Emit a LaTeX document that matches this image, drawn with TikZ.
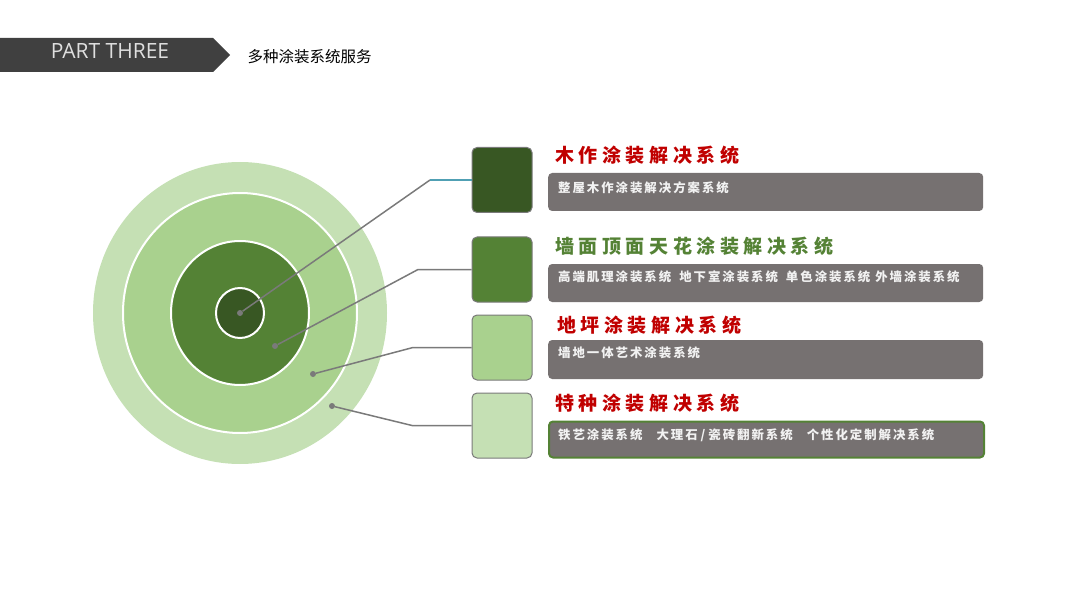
\documentclass[tikz,border=0pt]{standalone}
\usepackage{fontspec}
\usepackage{tikz}
\usetikzlibrary{calc,positioning}
\setmainfont{Open Sans}
\newfontfamily\cjk{Noto Sans CJK SC}
\newfontfamily\cjktitle[LetterSpace=24]{Noto Sans CJK SC}
\newfontfamily\cjkbar[LetterSpace=16]{Noto Sans CJK SC}
\definecolor{hdrgray}{RGB}{64,64,64}
\definecolor{ringA}{RGB}{197,224,180}
\definecolor{ringB}{RGB}{169,209,142}
\definecolor{ringC}{RGB}{84,130,53}
\definecolor{ringD}{RGB}{56,87,35}
\definecolor{barGray}{RGB}{118,113,113}
\definecolor{titleRed}{RGB}{192,0,0}
\definecolor{lineGray}{RGB}{122,122,122}
\definecolor{lineTeal}{RGB}{80,160,180}

\tikzset{
  sqbox/.style={draw=lineGray, line width=1pt, rounded corners=5pt, minimum width=60pt, minimum height=65pt, inner sep=0pt},
  barbox/.style={fill=barGray, rounded corners=4pt, minimum width=435pt, inner sep=0pt, anchor=west},
  bartext/.style={anchor=west, text=white!95!black, font=\cjkbar\bfseries\fontsize{12.4}{12.4}\selectfont, inner sep=0pt},
  titletext/.style={anchor=west, font=\cjktitle\bfseries\fontsize{19}{19}\selectfont, inner sep=0pt},
  dotnode/.style={circle, fill=lineGray, inner sep=0pt, minimum size=6pt},
  leader/.style={draw=lineGray, line width=1.5pt},
  ringline/.style={draw=white, line width=2pt},
}

\begin{document}
\begin{tikzpicture}[x=1pt, y=-1pt]
  \useasboundingbox (0,0) rectangle (1080,607);

  % Header
  \fill[hdrgray] (0,38) -- (213,38) -- (230,55) -- (213,72) -- (0,72) -- cycle;
  \node[text=gray!25, font=\fontsize{21}{21}\selectfont] (part) at (110,51) {PART THREE};
  \node[anchor=west, font=\cjk\fontsize{15.5}{15.5}\selectfont] (sub) at (244,57) {多种涂装系统服务};

  % Rings
  \coordinate (ctr) at (240,313);
  \fill[ringA] (ctr) ellipse [x radius=147pt, y radius=151pt];
  \filldraw[fill=ringB, ringline] (ctr) ellipse [x radius=117pt, y radius=120pt];
  \filldraw[fill=ringC, ringline] (ctr) ellipse [x radius=69pt, y radius=72pt];
  \filldraw[fill=ringD, ringline] (ctr) ellipse [x radius=24pt, y radius=25pt];

  % Squares
  \node[sqbox, fill=ringD] (s1) at (502,180) {};
  \node[sqbox, fill=ringC] (s2) at (502,269.5) {};
  \node[sqbox, fill=ringB] (s3) at (502,347.5) {};
  \node[sqbox, fill=ringA] (s4) at (502,425.5) {};

  % Dots and leaders
  \node[dotnode] (d1) at (240,313) {};
  \node[dotnode] (d2) at (275,346) {};
  \node[dotnode] (d3) at (313,374) {};
  \node[dotnode] (d4) at (332,406) {};
  \coordinate (k1) at (430,180);
  \coordinate (k2) at (418,269.5);
  \coordinate (k3) at (413,347.5);
  \coordinate (k4) at (412,425.5);
  \draw[leader] (d1) -- (k1);
  \draw[leader, draw=lineTeal] (k1) -- (s1.west);
  \draw[leader] (d2) -- (k2) -- (s2.west);
  \draw[leader] (d3) -- (k3) -- (s3.west);
  \draw[leader] (d4) -- (k4) -- (s4.west);

  % Titles
  \node[titletext, text=titleRed] (h1) at (555,155) {木作涂装解决系统};
  \node[titletext, text=ringC] (h2) at (555,246) {墙面顶面天花涂装解决系统};
  \node[titletext, text=titleRed] (h3) at (557,325) {地坪涂装解决系统};
  \node[titletext, text=titleRed] (h4) at (555,403) {特种涂装解决系统};

  % Bars
  \node[barbox, minimum height=38pt] (b1) at (548,192) {};
  \node[barbox, minimum height=38pt] (b2) at (548,283) {};
  \node[barbox, minimum height=39pt] (b3) at (548,359.5) {};
  \node[barbox, minimum height=36pt, draw=ringC, line width=2pt] (b4) at (548,439.5) {};
  \node[bartext] (t1) at (558,188) {整屋木作涂装解决方案系统};
  \node[bartext] (t2) at (558,277) {高端肌理涂装系统\hspace{8pt}地下室涂装系统\hspace{8pt}单色涂装系统\hspace{5pt}外墙涂装系统};
  \node[bartext] (t3) at (558,353) {墙地一体艺术涂装系统};
  \node[bartext] (t4) at (558,435) {铁艺涂装系统\hspace{14pt}大理石\hspace{3pt}/\hspace{3pt}瓷砖翻新系统\hspace{14pt}个性化定制解决系统};
\end{tikzpicture}
\end{document}
